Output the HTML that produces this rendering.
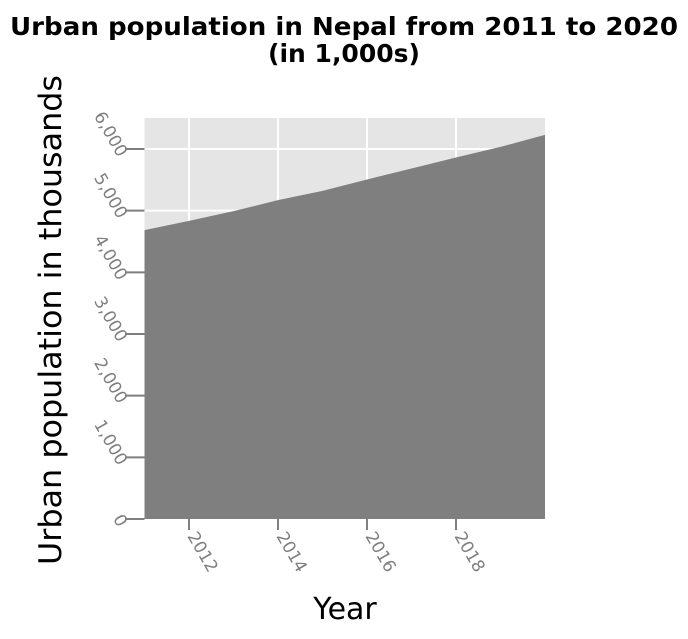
<!DOCTYPE html>
<html><head><meta charset="utf-8"><style>
body{margin:0;background:#fff;width:688px;height:634px;overflow:hidden}
text{font-family:"DejaVu Sans","Liberation Sans",sans-serif}
</style></head><body>
<svg id="chart" width="688" height="634" xmlns="http://www.w3.org/2000/svg">
<text x="344" y="35" text-anchor="middle" font-size="25" font-weight="bold" textLength="668" lengthAdjust="spacingAndGlyphs">Urban population in Nepal from 2011 to 2020</text>
<text x="344" y="62" text-anchor="middle" font-size="25" font-weight="bold">(in 1,000s)</text>
<rect x="144.5" y="118" width="400.5" height="401" fill="#e5e5e5"/>
<g id="grid"></g>
<path id="area" fill="#7f7f7f"/>
<g id="axes"></g>
<text transform="translate(61,320) rotate(-90)" text-anchor="middle" font-size="31" textLength="490" lengthAdjust="spacingAndGlyphs">Urban population in thousands</text>
<text x="345" y="619" text-anchor="middle" font-size="30">Year</text>
</svg>
<script>
const years=[2011,2012,2013,2014,2015,2016,2017,2018,2019,2020];
const population=[4684,4835,4992,5170,5321,5506,5684,5862,6034,6229];
const yTicks=[0,1000,2000,3000,4000,5000,6000];
const yTickLabels=["0","1,000","2,000","3,000","4,000","5,000","6,000"];
const xTicks=[2012,2014,2016,2018];
const xTickLabels=["2012","2014","2016","2018"];
const NS="http://www.w3.org/2000/svg";
const x=v=>144.5+(v-2011)*(545-144.5)/9;
const y=v=>519-v*(519-149)/6000;
function mk(tag,attrs,parent){const e=document.createElementNS(NS,tag);for(const k in attrs)e.setAttribute(k,attrs[k]);parent.appendChild(e);return e;}
const grid=document.getElementById('grid'),axes=document.getElementById('axes');
yTicks.forEach((t,i)=>{
  const g=mk('line',{x1:144.5,x2:545,y1:y(t),y2:y(t),stroke:'#fff','stroke-width':2},grid);
  
  
  const tk=mk('line',{x1:125,x2:144.5,y1:y(t),y2:y(t),stroke:'#7f7f7f','stroke-width':2},axes);
  
  
  const tx=mk('text',{transform:`translate(118,${y(t)+9}) rotate(60)`,'text-anchor':'end','font-size':17,fill:'#7f7f7f'},axes);
  tx.textContent=yTickLabels[i];
  
  
});
xTicks.forEach((t,i)=>{
  const g=mk('line',{x1:x(t),x2:x(t),y1:118,y2:519,stroke:'#fff','stroke-width':2},grid);
  
  
  const tk=mk('line',{x1:x(t),x2:x(t),y1:519,y2:530,stroke:'#7f7f7f','stroke-width':2},axes);
  
  
  const tx=mk('text',{transform:`translate(${x(t)-2},${536}) rotate(60)`,'text-anchor':'start','font-size':17,fill:'#7f7f7f'},axes);
  tx.textContent=xTickLabels[i];
  
  
});
let d=`M${x(years[0])},${y(0)}`;
years.forEach((yr,i)=>{d+=` L${x(yr)},${y(population[i])}`;});
d+=` L${x(years[years.length-1])},${y(0)} Z`;
document.getElementById('area').setAttribute('d',d);
</script>
</body></html>
